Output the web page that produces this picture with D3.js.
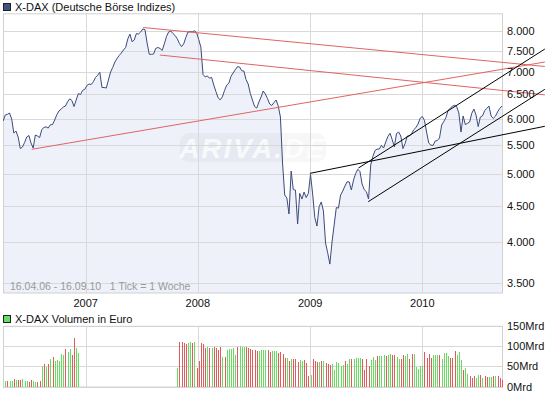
<!DOCTYPE html>
<html><head><meta charset="utf-8">
<script src="https://cdn.jsdelivr.net/npm/d3@7"></script>
<style>body{margin:0;background:#fff}svg{display:block;font-family:"Liberation Sans",Arial,sans-serif}</style>
</head><body><svg id="c" width="545" height="395"></svg>
<script>
// ---------- DATA ----------
const priceStart = "2006-04-07"; // first weekly close, one point per week
const weeklyClose = [
5954,6072,6086,6113,5994,5724,5762,5650,5440,5466,5549,5650,5678,5539,5450,5687,5668,5640,5790,5828,
5843,5818,5882,5886,5974,6082,6153,6193,6234,6254,6341,6404,6368,6244,6379,6516,6495,6585,6607,6690,
6723,6712,6774,6870,6920,6986,6646,6646,6635,6812,6993,7099,7226,7310,7383,7443,7517,7579,7793,7921,
7724,7767,7934,7921,7974,8053,8034,7692,7411,7411,7418,7555,7579,7555,7505,7667,7857,7974,8000,7934,
7882,7801,7680,7601,7667,7831,7974,7982,7979,8005,7961,7780,7586,6937,6881,6904,6852,6870,6701,6559,
6427,6383,6446,6581,6697,6739,6893,6970,7045,7115,7108,7023,7016,6823,6723,6516,6379,6244,6213,6337,
6442,6570,6505,6410,6296,6265,6327,6379,6254,6033,5188,4671,4625,4389,5053,4755,4747,4247,4696,4610,
4716,4632,4696,4996,4686,4338,4219,4495,4565,4432,3990,3864,3724,4003,4233,4483,4475,4671,4732,4810,
4879,4876,4748,4906,5012,5082,5045,4842,4753,4721,4610,5154,5300,5405,5431,5431,5497,5449,5558,5660,
5719,5603,5472,5716,5743,5668,5440,5530,5668,5668,5711,5786,5826,5895,6008,6044,5968,5743,5539,5502,
5497,5576,5585,5632,5876,5944,6024,6167,6209,6248,6271,6242,6113,5743,6054,5886,5909,5935,6107,6193,
6072,5847,6033,6056,6159,6207,6254,6054,6006,6048,6133,6203,6254
];

// weekly volume (Mrd Euro); "u" = green bar, "d" = red bar
const volStart1 = "2006-04-14";
const volume1 = [12.5,12.5,12.5,12.5,17.5,15,15,15,17.5,12.5,12.5,10,15,12.5,10,10,12.5,50,55,48,
55,67.5,72.5,62.5,65,62.5,80,77.5,92.5,85,92.5,77.5,120,95,82.5];
const volDir1 = "u d u u d u d d u u u d d u u d d u d u d u d u u u u u d u u d d u u".split(" ");

const volStart2 = "2007-10-26";
const volume2 = [45,110,110,107.5,105,107.5,110,107.5,110,45,62.5,107.5,105,95,97.5,95,95,97.5,95,90,
97.5,72.5,72.5,90,92.5,92.5,95,77.5,97.5,100,97.5,97.5,97.5,95,92.5,
90,90,87.5,87.5,90,90,90, 90,85,87.5,87.5,87.5,82.5,85, 80,70,70,62.5,67.5,67.5,67.5,
60,65,62.5,65,57.5, 25,27.5,67.5,62.5,60,60, 62.5,62.5,57.5,55,52.5,55,40,
60,57.5,50,52.5,62.5,55, 67.5,67.5,67.5,70,70,70, 67.5,40,67.5,50,65,72.5,
65,75,75,75,77.5,75,77.5, 80,77.5,77.5,72.5,67.5,67.5, 77.5,75,80,67.5,80,80,
47.5,42.5,50,50,85,70, 80,70,77.5,77.5,77.5,77.5,67.5, 82.5,82.5,75,70,70,87.5,
77.5,85,65,40,45,30, 25,20,25,20,27.5,27.5, 20,25,22.5,22.5,22.5,25,25, 25,20,15];
const volDir2 = ("u d d d d u u d u d d d d d u d u d d d d u d u u u u u d u u u d d d " +
"d d d u u u u d d u u u d d d d u d u d d d u u d d d u d d d u d u d d d u u " +
"u u u u d u u d u u u u d d d d u u u d u u u d u u d d u u d d u u d d u u u u u " +
"d d d d u u u d u u u u d d d u u u d u u d d d u u d u d d u u d u d d d u u d d u d d " +
"u u u").split(" ");

const priceTicks = [3500,4000,4500,5000,5500,6000,6500,7000,7500,8000];
const priceTickLabels = ["3.500","4.000","4.500","5.000","5.500","6.000","6.500","7.000","7.500","8.000"];
const volTicks = [0,50,100,150];
const volTickLabels = ["0Mrd","50Mrd","100Mrd","150Mrd"];
const yearTicks = ["2007-01-01","2008-01-01","2009-01-01","2010-01-01"];
const yearLabels = ["2007","2008","2009","2010"];

// trend lines: [start date, value] -> [end date, value]
const redTrends = [
  [["2007-07-07",8092],["2011-02-04",7121]],
  [["2007-08-30",7394],["2011-02-04",6488]],
  [["2006-07-09",5426],["2011-02-04",7226]]
];
const blackTrends = [
  [["2008-12-31",5015],["2011-02-04",5852]],
  [["2009-07-09",4570],["2011-02-04",6607]],
  [["2009-06-07",5103],["2011-02-04",7541]]
];

const titleText = "X-DAX (Deutsche Börse Indizes)";
const volTitleText = "X-DAX Volumen in Euro";
const footerText = "16.04.06 - 16.09.10   1 Tick = 1 Woche";

// ---------- CHART ----------
const P = d3.utcParse("%Y-%m-%d");
const svg = d3.select("#c");
const L = 3, R = 503, T = 13.3, B = 293;
const VT = 326.3, VB = 386.5;

const x = d3.scaleUtc().domain([P("2007-01-01"), P("2010-01-01")]).range([85.7, 422.3]);
const y = d3.scaleLog().domain([3387, 8478]).range([B, T]);
const yv = d3.scaleLinear().domain([0, 150]).range([VB, VT]);

const s0 = P(priceStart);
const series = weeklyClose.map((v, i) => ({date: d3.utcDay.offset(s0, 7 * i), v}));
const vol = [];
volume1.forEach((v, i) => vol.push({date: d3.utcDay.offset(P(volStart1), 7 * i), v, up: volDir1[i] === "u"}));
volume2.forEach((v, i) => vol.push({date: d3.utcDay.offset(P(volStart2), 7 * i), v, up: volDir2[i] === "u"}));

const gridC = "#d9d9d9";
const px = v => Math.round(v) + 0.5;

// title
svg.append("rect").attr("x", 3.5).attr("y", 3.5).attr("width", 7).attr("height", 7)
  .attr("fill", "#3f5283").attr("stroke", "#222");
svg.append("text").attr("x", 15).attr("y", 10.5).attr("font-size", 11).attr("fill", "#111").text(titleText);

// clip
svg.append("clipPath").attr("id", "pc").append("rect").attr("x", L).attr("y", T).attr("width", R - L).attr("height", B - T);

// area
svg.append("path").datum(series).attr("clip-path", "url(#pc)")
  .attr("fill", "#eef1fa")
  .attr("d", d3.area().x(d => x(d.date)).y0(B).y1(d => y(d.v)));

// watermark
const wm = svg.append("g");
wm.append("rect").attr("x", 180).attr("y", 133).attr("width", 146).attr("height", 29).attr("rx", 9)
  .attr("fill", "#000").attr("opacity", 0.03);
wm.append("text").attr("x", 253).attr("y", 158).attr("text-anchor", "middle")
  .attr("font-size", 28).attr("font-weight", "bold").attr("font-style", "italic")
  .attr("letter-spacing", 2).attr("fill", "#fff").attr("opacity", 0.75).text("ARIVA.DE");

// grid main
const g1 = svg.append("g").attr("stroke", gridC).attr("stroke-width", 1);
priceTicks.forEach(t => g1.append("line").attr("x1", L).attr("x2", R).attr("y1", px(y(t))).attr("y2", px(y(t))));
yearTicks.forEach(t => g1.append("line").attr("x1", px(x(P(t)))).attr("x2", px(x(P(t)))).attr("y1", T).attr("y2", B));
svg.append("rect").attr("x", L + 0.5).attr("y", T + 0.5).attr("width", R - L - 1).attr("height", B - T - 0.5)
  .attr("fill", "none").attr("stroke", "#d0d0d0");

// footer
svg.append("text").attr("x", 10).attr("y", 289.5).attr("font-size", 10.5).attr("fill", "#9a9a9a")
  .attr("xml:space", "preserve").style("white-space", "pre").text(footerText);

// price line
svg.append("path").datum(series).attr("clip-path", "url(#pc)")
  .attr("fill", "none").attr("stroke", "#3b4b7b").attr("stroke-width", 1).attr("stroke-linejoin", "round")
  .attr("d", d3.line().x(d => x(d.date)).y(d => y(d.v)));

// trend lines
const tl = d3.line().x(d => x(P(d[0]))).y(d => y(d[1]));
redTrends.forEach(t => svg.append("path").attr("d", tl(t)).attr("stroke", "#e06464").attr("stroke-width", 1).attr("fill", "none"));
blackTrends.forEach(t => svg.append("path").attr("d", tl(t)).attr("stroke", "#000").attr("stroke-width", 1).attr("fill", "none"));

// y labels
priceTicks.forEach((t, i) => svg.append("text").attr("x", 507).attr("y", y(t) + 4).attr("font-size", 11)
  .attr("fill", "#111").text(priceTickLabels[i]));
// year labels
yearTicks.forEach((t, i) => svg.append("text").attr("x", x(P(t))).attr("y", 306.5).attr("text-anchor", "middle")
  .attr("font-size", 11).attr("fill", "#111").text(yearLabels[i]));

// volume panel
svg.append("rect").attr("x", 3.5).attr("y", 315.5).attr("width", 7).attr("height", 7)
  .attr("fill", "#66dd66").attr("stroke", "#222");
svg.append("text").attr("x", 15).attr("y", 323).attr("font-size", 11).attr("fill", "#111").text(volTitleText);

const g2 = svg.append("g").attr("stroke", gridC);
volTicks.forEach(t => g2.append("line").attr("x1", L).attr("x2", R).attr("y1", px(yv(t))).attr("y2", px(yv(t))));
yearTicks.forEach(t => g2.append("line").attr("x1", px(x(P(t)))).attr("x2", px(x(P(t)))).attr("y1", VT).attr("y2", VB));
svg.append("rect").attr("x", L + 0.5).attr("y", VT).attr("width", R - L - 1).attr("height", VB - VT + 0.5)
  .attr("fill", "none").attr("stroke", "#d0d0d0");

svg.append("g").attr("shape-rendering", "crispEdges").selectAll("rect").data(vol).join("rect")
  .attr("x", d => Math.round(x(d.date))).attr("width", 1)
  .attr("y", d => Math.round(yv(d.v))).attr("height", d => Math.round(yv(0)) - Math.round(yv(d.v)))
  .attr("fill", d => d.up ? "#66dd5e" : "#e05c5c");

volTicks.forEach((t, i) => svg.append("text").attr("x", 507).attr("y", yv(t) + 4).attr("font-size", 11)
  .attr("fill", "#111").text(volTickLabels[i]));
</script></body></html>
